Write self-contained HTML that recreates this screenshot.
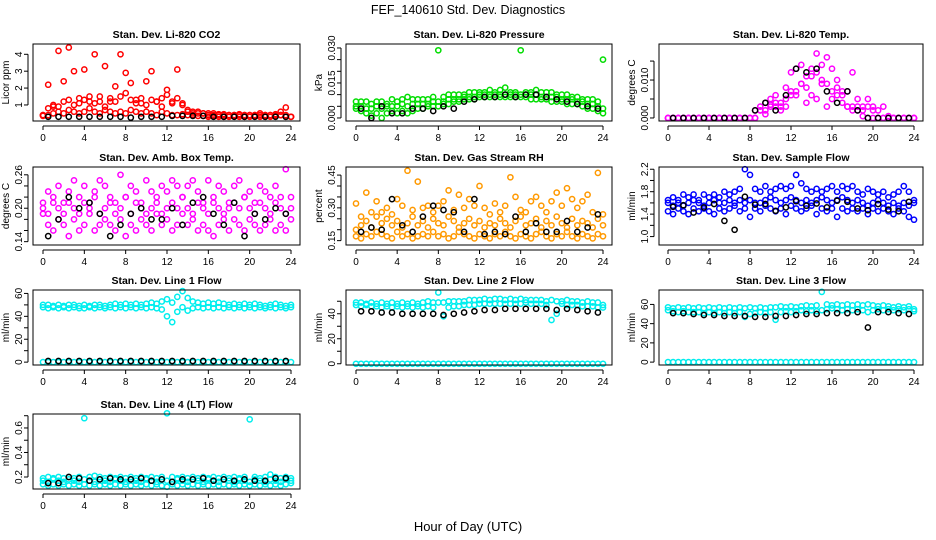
<!DOCTYPE html>
<html><head><meta charset="utf-8"><style>
body{margin:0;background:#fff}
svg{display:block;font-family:"Liberation Sans",Arial,sans-serif}
</style></head><body>
<svg id="chart" width="936" height="540" viewBox="0 0 936 540">
<text x="468" y="14" text-anchor="middle" font-size="12.5">FEF_140610  Std. Dev. Diagnostics</text>
<text x="468" y="531" text-anchor="middle" font-size="13">Hour of Day (UTC)</text>
</svg>
<script>
const hours=[0,0.5,1,1.5,2,2.5,3,3.5,4,4.5,5,5.5,6,6.5,7,7.5,8,8.5,9,9.5,10,10.5,11,11.5,12,12.5,13,13.5,14,14.5,15,15.5,16,16.5,17,17.5,18,18.5,19,19.5,20,20.5,21,21.5,22,22.5,23,23.5,24];
const hoursK=[0.5,1.5,2.5,3.5,4.5,5.5,6.5,7.5,8.5,9.5,10.5,11.5,12.5,13.5,14.5,15.5,16.5,17.5,18.5,19.5,20.5,21.5,22.5,23.5];
const xTicks=[0,4,8,12,16,20,24];
const lineZero=[0,0,0,0,0,0,0,0,0,0,0,0,0,0,0,0,0,0,0,0,0,0,0,0,0,0,0,0,0,0,0,0,0,0,0,0,0,0,0,0,0,0,0,0,0,0,0,0,0];

const co2A=[0.35,0.4,0.5,0.6,0.5,0.7,0.6,0.5,0.6,0.8,0.6,0.5,0.7,0.6,0.5,0.6,0.5,0.7,0.6,0.5,0.6,0.5,0.4,0.6,0.5,0.4,0.4,0.45,0.4,0.4,0.35,0.35,0.3,0.35,0.3,0.3,0.3,0.35,0.3,0.3,0.3,0.35,0.3,0.3,0.3,0.35,0.4,0.3,0.3];
const co2B=[0.4,2.2,0.9,4.2,2.4,4.4,3.0,1.4,3.1,1.2,4.0,1.5,3.3,1.2,2.1,4.0,2.9,2.3,1.3,1.1,2.4,3.0,1.2,1.4,1.9,1.1,3.1,1.0,0.7,0.6,0.6,0.5,0.5,0.5,0.45,0.45,0.4,0.4,0.45,0.4,0.4,0.4,0.5,0.4,0.4,0.45,0.6,0.85,0.3];
const co2C=[0.4,0.8,1.0,0.9,1.2,1.3,1.0,1.1,1.3,1.5,1.1,1.2,0.9,1.4,1.2,1.5,1.7,1.3,1.1,1.4,1.0,1.3,1.2,0.9,1.6,1.2,1.4,1.1,0.6,0.5,0.5,0.5,0.4,0.4,0.4,0.4,0.4,0.4,0.4,0.4,0.4,0.4,0.4,0.4,0.4,0.4,0.4,0.4,0.3];
const co2K=[0.3,0.3,0.3,0.3,0.3,0.3,0.3,0.3,0.25,0.3,0.3,0.3,0.35,0.35,0.35,0.35,0.3,0.3,0.3,0.3,0.3,0.3,0.3,0.3];

const presA=[0.004,0.003,0.002,0.001,0.002,0.000,0.002,0.003,0.002,0.003,0.002,0.003,0.004,0.004,0.005,0.005,0.005,0.006,0.006,0.007,0.007,0.008,0.008,0.008,0.009,0.009,0.009,0.009,0.009,0.009,0.009,0.009,0.009,0.009,0.008,0.008,0.008,0.008,0.007,0.007,0.007,0.006,0.006,0.006,0.005,0.004,0.004,0.003,0.002];
const presB=[0.007,0.007,0.007,0.006,0.007,0.007,0.006,0.008,0.007,0.008,0.009,0.008,0.008,0.008,0.008,0.009,0.029,0.009,0.010,0.010,0.010,0.010,0.011,0.011,0.011,0.011,0.012,0.011,0.012,0.013,0.011,0.011,0.029,0.011,0.011,0.012,0.011,0.011,0.011,0.010,0.010,0.010,0.009,0.009,0.008,0.008,0.008,0.007,0.025];
const presC=[0.005,0.005,0.004,0.004,0.005,0.004,0.005,0.005,0.005,0.006,0.005,0.006,0.006,0.006,0.006,0.007,0.007,0.007,0.008,0.008,0.008,0.009,0.009,0.009,0.010,0.010,0.010,0.010,0.010,0.010,0.010,0.010,0.010,0.010,0.010,0.010,0.009,0.009,0.009,0.009,0.008,0.008,0.008,0.007,0.007,0.006,0.006,0.005,0.004];
const presK=[0.004,0.000,0.005,0.002,0.002,0.004,0.004,0.003,0.005,0.004,0.007,0.008,0.009,0.009,0.010,0.009,0.010,0.010,0.009,0.008,0.007,0.006,0.005,0.004];

const tempA=[0,0,0,0,0,0,0,0,0,0,0,0,0,0,0,0,0,0,0.003,0.002,0.0035,0.003,0.004,0.003,0.006,0.007,0.009,0.008,0.011,0.012,0.010,0.009,0.007,0.008,0.006,0.003,0.003,0.003,0.002,0.003,0.002,0,0,0,0,0,0,0,0];
const tempB=[0,0,0,0,0,0,0,0,0,0,0,0,0,0,0,0,0,0.002,0.002,0.004,0.003,0.006,0.003,0.008,0.012,0.013,0.014,0.011,0.013,0.017,0.014,0.016,0.013,0.010,0.007,0.007,0.012,0.005,0.003,0.005,0.003,0.002,0.003,0.0005,0,0,0,0,0];
const tempC=[0,0,0,0,0,0,0,0,0,0,0,0,0,0,0,0,0,0,0.002,0.001,0.005,0.004,0.002,0.005,0.007,0.006,0.009,0.004,0.006,0.005,0.009,0.003,0.005,0.006,0.004,0.003,0.002,0.002,0.0005,0,0,0,0,0,0,0,0,0,0];
const tempK=[0,0,0,0,0,0,0,0,0.002,0.004,0.002,0.006,0.013,0.012,0.013,0.007,0.004,0.007,0.002,0,0,0,0,0];

const ambA=[0.19,0.17,0.16,0.18,0.17,0.15,0.18,0.16,0.17,0.19,0.16,0.17,0.18,0.17,0.16,0.18,0.15,0.17,0.16,0.18,0.17,0.16,0.19,0.17,0.18,0.16,0.17,0.19,0.17,0.18,0.16,0.17,0.16,0.15,0.17,0.18,0.16,0.18,0.17,0.16,0.18,0.17,0.16,0.17,0.18,0.16,0.17,0.16,0.18];
const ambB=[0.21,0.23,0.22,0.24,0.21,0.23,0.25,0.22,0.24,0.21,0.23,0.25,0.24,0.22,0.21,0.26,0.22,0.24,0.23,0.21,0.25,0.23,0.22,0.24,0.23,0.25,0.24,0.22,0.24,0.25,0.23,0.21,0.25,0.22,0.24,0.23,0.21,0.24,0.25,0.22,0.23,0.21,0.24,0.23,0.22,0.24,0.22,0.27,0.22];
const ambC=[0.20,0.19,0.21,0.20,0.19,0.21,0.20,0.19,0.21,0.20,0.22,0.19,0.20,0.21,0.19,0.20,0.22,0.19,0.21,0.20,0.19,0.20,0.21,0.19,0.20,0.21,0.20,0.22,0.20,0.19,0.21,0.20,0.19,0.21,0.20,0.19,0.20,0.21,0.20,0.22,0.20,0.19,0.21,0.20,0.19,0.21,0.20,0.19,0.20];
const ambK=[0.15,0.18,0.22,0.20,0.21,0.19,0.15,0.17,0.19,0.20,0.18,0.18,0.20,0.17,0.21,0.22,0.19,0.17,0.21,0.15,0.19,0.18,0.20,0.19];

const rhA=[0.17,0.16,0.18,0.17,0.19,0.18,0.17,0.16,0.19,0.17,0.18,0.16,0.17,0.18,0.17,0.19,0.17,0.18,0.16,0.17,0.19,0.18,0.17,0.16,0.18,0.17,0.16,0.18,0.17,0.19,0.17,0.16,0.18,0.17,0.16,0.18,0.19,0.17,0.16,0.18,0.17,0.19,0.17,0.16,0.18,0.17,0.16,0.18,0.17];
const rhB=[0.32,0.26,0.37,0.28,0.33,0.28,0.30,0.27,0.34,0.31,0.47,0.29,0.42,0.30,0.31,0.28,0.31,0.33,0.38,0.29,0.36,0.30,0.34,0.31,0.40,0.30,0.27,0.32,0.28,0.31,0.44,0.35,0.29,0.28,0.33,0.35,0.31,0.28,0.33,0.37,0.31,0.39,0.34,0.30,0.33,0.36,0.28,0.46,0.27];
const rhC=[0.20,0.22,0.24,0.21,0.26,0.23,0.25,0.22,0.24,0.21,0.23,0.26,0.22,0.24,0.21,0.25,0.23,0.22,0.26,0.24,0.21,0.23,0.25,0.22,0.24,0.21,0.23,0.22,0.25,0.23,0.21,0.24,0.26,0.22,0.23,0.25,0.21,0.24,0.22,0.26,0.23,0.21,0.25,0.22,0.24,0.23,0.21,0.25,0.22];
const rhK=[0.19,0.21,0.20,0.34,0.22,0.19,0.26,0.31,0.29,0.28,0.19,0.34,0.18,0.19,0.18,0.26,0.19,0.23,0.19,0.19,0.24,0.19,0.21,0.27];

const sfA=[1.45,1.4,1.5,1.45,1.4,1.5,1.45,1.5,1.45,1.4,1.5,1.45,1.5,1.55,1.45,1.5,1.35,1.5,1.45,1.55,1.5,1.45,1.5,1.4,1.55,1.5,1.45,1.5,1.55,1.4,1.5,1.45,1.5,1.35,1.5,1.45,1.5,1.45,1.5,1.4,1.5,1.45,1.5,1.45,1.4,1.5,1.45,1.35,1.3];
const sfB=[1.65,1.7,1.65,1.75,1.7,1.75,1.65,1.75,1.7,1.75,1.7,1.8,1.75,1.8,1.85,2.2,2.1,1.85,1.8,1.9,1.8,1.85,1.9,1.85,1.9,2.1,1.95,1.85,1.8,1.85,1.8,1.85,1.9,1.8,1.9,1.85,1.9,1.8,1.75,1.85,1.8,1.75,1.8,1.7,1.75,1.8,1.9,1.8,1.65];
const sfC=[1.6,1.55,1.6,1.55,1.6,1.65,1.6,1.55,1.6,1.65,1.6,1.6,1.65,1.6,1.65,1.6,1.65,1.6,1.6,1.65,1.7,1.65,1.6,1.65,1.7,1.65,1.6,1.65,1.6,1.65,1.7,1.65,1.6,1.65,1.7,1.65,1.6,1.65,1.6,1.55,1.6,1.65,1.6,1.55,1.6,1.55,1.6,1.55,1.6];
const sfK=[1.53,1.56,1.43,1.52,1.58,1.28,1.12,1.71,1.57,1.58,1.46,1.52,1.63,1.55,1.59,1.52,1.64,1.62,1.50,1.47,1.58,1.48,1.45,1.62];

const l1A=[48,47,48,47,48,47,48,47,47,48,47,48,47,48,47,48,47,48,47,48,47,48,47,46,40,35,44,48,45,47,48,47,48,47,48,47,48,47,48,47,48,47,48,47,48,47,48,47,48];
const l1B=[50,50,49,50,49,50,50,49,50,49,50,50,49,50,51,50,51,50,51,50,51,52,51,53,55,52,57,62,56,53,52,51,52,51,52,51,50,51,50,51,50,51,50,49,50,51,50,49,50];
const l1K=[1,1,1,1,1,1,1,1,1,1,1,1,1,1,1,1,1,1,1,1,1,1,1,1];

const l2A=[47,46,47,46,46,45,46,45,46,45,46,45,46,45,46,45,57,38,45,46,46,47,47,47,48,48,48,48,48,48,48,48,48,49,48,48,48,47,35,40,48,47,47,47,46,46,46,45,45];
const l2B=[49,49,48,49,48,49,48,49,48,49,48,49,48,49,50,49,49,49,50,50,50,50,51,51,51,52,51,52,52,51,52,51,52,51,51,51,51,50,51,50,50,51,50,50,49,50,49,49,47];
const l2K=[42,42,41,41,40,40,40,40,39,40,41,42,43,43,44,44,44,44,44,43,44,43,42,41];

const l3A=[54,53,52,53,52,52,52,51,52,51,52,51,52,51,52,47,50,51,52,51,52,44,52,53,52,53,54,53,54,53,54,55,56,55,54,55,54,55,54,52,54,55,54,55,54,55,54,55,53];
const l3B=[57,56,57,56,57,56,57,56,57,56,57,56,57,56,57,56,57,56,57,56,57,57,58,57,58,57,58,59,58,59,73,60,59,60,59,60,59,60,59,60,59,58,59,58,57,58,57,58,55];
const l3K=[51,51,50,49,49,48,48,48,47,47,48,48,49,50,50,51,51,51,52,36,52,52,51,50];

const l4A=[0.14,0.13,0.14,0.13,0.14,0.13,0.14,0.13,0.14,0.13,0.14,0.13,0.14,0.13,0.14,0.13,0.14,0.13,0.14,0.13,0.14,0.13,0.14,0.13,0.12,0.14,0.13,0.14,0.13,0.14,0.13,0.14,0.13,0.14,0.13,0.14,0.13,0.14,0.13,0.14,0.13,0.14,0.13,0.14,0.13,0.14,0.13,0.14,0.15];
const l4B=[0.19,0.2,0.19,0.2,0.19,0.2,0.19,0.2,0.68,0.2,0.21,0.2,0.19,0.2,0.19,0.2,0.19,0.2,0.19,0.2,0.19,0.2,0.19,0.2,0.72,0.2,0.19,0.2,0.19,0.2,0.19,0.2,0.19,0.2,0.19,0.2,0.19,0.2,0.19,0.2,0.67,0.2,0.19,0.2,0.22,0.2,0.19,0.2,0.19];
const l4C=[0.17,0.16,0.18,0.17,0.16,0.18,0.17,0.16,0.18,0.17,0.16,0.18,0.17,0.16,0.18,0.17,0.16,0.18,0.17,0.16,0.18,0.17,0.16,0.18,0.17,0.16,0.18,0.17,0.16,0.18,0.17,0.16,0.18,0.17,0.16,0.18,0.17,0.16,0.18,0.17,0.16,0.18,0.17,0.16,0.18,0.17,0.16,0.18,0.17];
const l4K=[0.15,0.15,0.2,0.19,0.17,0.18,0.19,0.18,0.18,0.19,0.17,0.18,0.16,0.18,0.18,0.19,0.17,0.18,0.17,0.18,0.17,0.17,0.19,0.19];

const NS='http://www.w3.org/2000/svg';
const svg=document.getElementById('chart');
const cols=[{l:33,r:300,x0:43,x1:291},{l:346,r:612,x0:356,x1:603},{l:659,r:923,x0:668,x1:914}];
const rows=[{t:44,b:121},{t:167,b:245},{t:290,b:365},{t:414,b:489}];

const panels=[
 {name:'co2',title:'Stan. Dev. Li-820 CO2',c:0,r:0,ymin:0.05,ymax:4.61,ticks:[1,2,3,4],labels:['1','2','3','4'],ylab:'Licor ppm',color:'#ff0000',series:[co2A,co2C,co2B],k:co2K,zero:false},
 {name:'pressure',title:'Stan. Dev. Li-820 Pressure',c:1,r:0,ymin:-0.0013,ymax:0.0317,ticks:[0,0.005,0.01,0.015,0.02,0.025,0.03],labels:['0.000','','','0.015','','','0.030'],ylab:'kPa',color:'#00dd00',series:[presA,presC,presB],k:presK,zero:false},
 {name:'temp',title:'Stan. Dev. Li-820 Temp.',c:2,r:0,ymin:-0.0008,ymax:0.0195,ticks:[0,0.005,0.01,0.015],labels:['0.000','','0.010',''],ylab:'degrees C',color:'#ff00ff',series:[tempA,tempC,tempB],k:tempK,zero:false},
 {name:'amb-box-temp',title:'Stan. Dev. Amb. Box Temp.',c:0,r:1,ymin:0.134,ymax:0.274,ticks:[0.14,0.16,0.18,0.2,0.22,0.24,0.26],labels:['0.14','','','0.20','','','0.26'],ylab:'degrees C',color:'#ff00ff',series:[ambA,ambC,ambB],k:ambK,zero:false},
 {name:'gas-rh',title:'Stan. Dev. Gas Stream RH',c:1,r:1,ymin:0.13,ymax:0.487,ticks:[0.15,0.2,0.25,0.3,0.35,0.4,0.45],labels:['0.15','','','0.30','','','0.45'],ylab:'percent',color:'#ff9900',series:[rhA,rhC,rhB],k:rhK,zero:false},
 {name:'sample-flow',title:'Stan. Dev. Sample Flow',c:2,r:1,ymin:0.85,ymax:2.24,ticks:[1.0,1.2,1.4,1.6,1.8,2.0,2.2],labels:['1.0','','1.4','','1.8','','2.2'],ylab:'ml/min',color:'#0000ff',series:[sfA,sfC,sfB],k:sfK,zero:false},
 {name:'line1-flow',title:'Stan. Dev. Line 1 Flow',c:0,r:2,ymin:-2.5,ymax:63,ticks:[0,10,20,30,40,50,60],labels:['0','','20','','40','','60'],ylab:'ml/min',color:'#00eeee',series:[l1A,l1B],k:l1K,zero:true},
 {name:'line2-flow',title:'Stan. Dev. Line 2 Flow',c:1,r:2,ymin:-1,ymax:59,ticks:[0,10,20,30,40,50],labels:['0','','20','','40',''],ylab:'ml/min',color:'#00eeee',series:[l2A,l2B],k:l2K,zero:true},
 {name:'line3-flow',title:'Stan. Dev. Line 3 Flow',c:2,r:2,ymin:-3,ymax:75,ticks:[0,20,40,60],labels:['0','20','40','60'],ylab:'ml/min',color:'#00eeee',series:[l3A,l3B],k:l3K,zero:true},
 {name:'line4-flow',title:'Stan. Dev. Line 4 (LT) Flow',c:0,r:3,ymin:0.102,ymax:0.714,ticks:[0.2,0.3,0.4,0.5,0.6,0.7],labels:['0.2','','0.4','','0.6',''],ylab:'ml/min',color:'#00eeee',series:[l4A,l4C,l4B],k:l4K,zero:false}
];

function mk(tag,attrs,parent){const e=document.createElementNS(NS,tag);for(const k in attrs)e.setAttribute(k,attrs[k]);(parent||svg).appendChild(e);return e;}

panels.forEach(p=>{
 const C=cols[p.c],R=rows[p.r];
 const xs=h=>C.x0+(h/24)*(C.x1-C.x0);
 const ys=v=>R.b-(v-p.ymin)/(p.ymax-p.ymin)*(R.b-R.t);
 const g=mk('g',{});
 
 
 const t=mk('text',{x:(C.l+C.r)/2,y:R.t-6,'text-anchor':'middle','font-size':'10.5','font-weight':'bold'},g);
 t.textContent=p.title;
 
 
 const pts=mk('g',{fill:'none','stroke-width':'1.5'},g);
 
 
 const drawSeries=(xarr,yarr,color,nm)=>{
  yarr.forEach((v,i)=>{
   const c=mk('circle',{cx:xs(xarr[i]).toFixed(1),cy:ys(v).toFixed(1),r:'2.6',stroke:color},pts);
   
   
  });
 };
 if(p.zero) drawSeries(hours,lineZero,p.color,'point-zero');
 p.series.forEach(s=>drawSeries(hours,s,p.color,'point-main'));
 drawSeries(hoursK,p.k,'#000000','point-black');
 const box=mk('rect',{x:C.l,y:R.t,width:C.r-C.l,height:R.b-R.t,fill:'none',stroke:'#000','stroke-width':'1'},g);
 
 
 const xa=mk('g',{'font-size':'10'},g);
 
 
 mk('line',{x1:xs(0),x2:xs(24),y1:R.b+5,y2:R.b+5,stroke:'#000'},xa);
 xTicks.forEach(h=>{
  mk('line',{x1:xs(h),x2:xs(h),y1:R.b+5,y2:R.b+9,stroke:'#000'},xa);
  const tl=mk('text',{x:xs(h),y:R.b+20,'text-anchor':'middle'},xa);
  tl.textContent=h;
  
  
 });
 const ya=mk('g',{'font-size':'10'},g);
 
 
 mk('line',{x1:C.l-5,x2:C.l-5,y1:ys(p.ticks[0]),y2:ys(p.ticks[p.ticks.length-1]),stroke:'#000'},ya);
 p.ticks.forEach((v,i)=>{
  const y=ys(v);
  mk('line',{x1:C.l-9,x2:C.l-5,y1:y,y2:y,stroke:'#000'},ya);
  if(p.labels[i]){
   const tl=mk('text',{x:C.l-11,y:y,'text-anchor':'middle',transform:`rotate(-90 ${C.l-11} ${y})`},ya);
   tl.textContent=p.labels[i];
   
   
  }
 });
 const yl=(C.l-24);const ym=(R.t+R.b)/2;
 const yt=mk('text',{x:yl,y:ym,'text-anchor':'middle','font-size':'10',transform:`rotate(-90 ${yl} ${ym})`},g);
 yt.textContent=p.ylab;
 
 
});
</script>
</body></html>
